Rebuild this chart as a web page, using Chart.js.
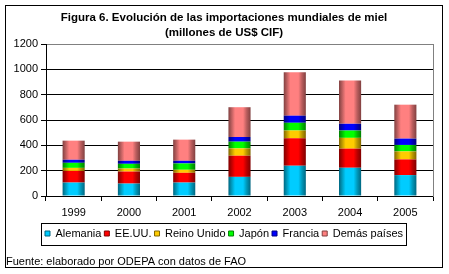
<!DOCTYPE html>
<html>
<head>
<meta charset="utf-8">
<script src="https://cdn.jsdelivr.net/npm/chart.js@4/dist/chart.umd.min.js"></script>
<style>
  html, body { margin:0; padding:0; background:#fff; }
  #frame { position:absolute; left:5px; top:5px; width:436px; height:261px; border:1px solid #000; }
  #frame canvas { display:block; }
</style>
</head>
<body>
<div id="frame"><canvas id="chart" width="436" height="261"></canvas></div>
<script>
// Importaciones mundiales de miel, millones de US$ CIF
const years      = ['1999','2000','2001','2002','2003','2004','2005'];
const alemania   = [106,  98, 106, 151, 239, 223, 165];
const eeuu       = [ 92,  95,  77, 167, 217, 151, 124];
const reinoUnido = [ 24,  24,  24,  58,  61,  85,  63];
const japon      = [ 40,  37,  50,  53,  61,  58,  51];
const francia    = [ 24,  24,  21,  37,  56,  53,  50];
const demas      = [151, 151, 167, 235, 342, 342, 268];
const yTicks     = [0, 200, 400, 600, 800, 1000, 1200];

const FONT = 'Liberation Sans, Arial, sans-serif';
const BAR_PCT = 0.4;

// colores cilindro: [claro, medio, oscuro]
const SHADES = {
  alemania: ['#00ccff', '#0099bb', '#006680'],
  eeuu:     ['#ff0000', '#bb0000', '#800000'],
  reino:    ['#ffcc00', '#bb9900', '#806600'],
  japon:    ['#00ff00', '#00bb00', '#008000'],
  francia:  ['#0000ff', '#0000bb', '#000080'],
  demas:    ['#ff8080', '#bb5e5e', '#804040']
};

function cylinder(shade){
  return (ctx)=>{
    const chart = ctx.chart;
    const xs = chart.scales && chart.scales.x;
    if(!chart.chartArea || !xs || ctx.dataIndex == null) return shade[0];
    const cx = xs.getPixelForValue(ctx.dataIndex);
    const w = xs.width / years.length * BAR_PCT;
    const g = chart.ctx.createLinearGradient(cx - w/2, 0, cx + w/2, 0);
    g.addColorStop(0, shade[2]);
    g.addColorStop(0.14, shade[1]);
    g.addColorStop(0.3, shade[0]);
    g.addColorStop(0.66, shade[0]);
    g.addColorStop(0.82, shade[1]);
    g.addColorStop(1, shade[2]);
    return g;
  };
}

function ds(label, data, shade){
  return {label, data, backgroundColor:cylinder(shade), legendFill:shade[0], legendEdge:shade[2],
    borderWidth:0, barPercentage:BAR_PCT, categoryPercentage:1};
}

// recuadro de la leyenda
const legendBox = {
  id:'legendBox',
  afterDraw(chart){
    const boxes = chart.legend && chart.legend.legendHitBoxes;
    if(!boxes || !boxes.length) return;
    const left = Math.min(...boxes.map(b=>b.left)) - 4;
    const right = Math.max(...boxes.map(b=>b.left + b.width)) + 3;
    const cy = boxes[0].top + boxes[0].height/2;
    const c = chart.ctx;
    c.save();
    c.strokeStyle = '#000';
    c.lineWidth = 1;
    c.strokeRect(Math.round(left)+0.5, Math.round(cy - 11)+0.5, Math.round(right-left), 22);
    c.restore();
  }
};

new Chart(document.getElementById('chart'), {
  type:'bar',
  data:{
    labels:years,
    datasets:[
      ds('Alemania', alemania, SHADES.alemania),
      ds('EE.UU.', eeuu, SHADES.eeuu),
      ds('Reino Unido', reinoUnido, SHADES.reino),
      ds('Japón', japon, SHADES.japon),
      ds('Francia', francia, SHADES.francia),
      ds('Demás países', demas, SHADES.demas)
    ]
  },
  options:{
    responsive:false,
    animation:false,
    layout:{padding:0},
    plugins:{
      title:{
        display:true,
        text:['Figura 6. Evolución de las importaciones mundiales de miel','(millones de US$ CIF)'],
        color:'#000',
        font:{family:FONT, size:11.5, weight:'bold', lineHeight:15/11.5},
        padding:{top:4, bottom:4}
      },
      subtitle:{
        display:true,
        position:'bottom',
        align:'start',
        text:'Fuente: elaborado por ODEPA con datos de FAO',
        color:'#000',
        font:{family:FONT, size:11, lineHeight:1},
        padding:{top:7, bottom:0}
      },
      legend:{
        position:'bottom',
        labels:{
          color:'#000',
          font:{family:FONT, size:11},
          boxWidth:5,
          boxHeight:5,
          padding:3,
          generateLabels(chart){
            return chart.data.datasets.map((d,i)=>({
              text:d.label, fillStyle:d.legendFill, strokeStyle:d.legendEdge,
              lineWidth:1, hidden:false, datasetIndex:i
            }));
          }
        }
      },
      tooltip:{enabled:false}
    },
    scales:{
      x:{
        stacked:true,
        grid:{offset:true, drawOnChartArea:false, color:'#000', tickLength:5},
        border:{color:'#000'},
        ticks:{color:'#000', font:{family:FONT, size:11}, padding:5, maxRotation:0},
        afterFit:(s)=>{ s.height = 29; }
      },
      y:{
        stacked:true,
        min:0, max:1200,
        afterBuildTicks:(s)=>{ s.ticks = yTicks.map(v=>({value:v})); },
        grid:{
          color:(c)=> c.tick && c.tick.value === 1200 ? '#808080' : '#000',
          tickColor:'#000',
          tickLength:5
        },
        border:{color:'#000'},
        ticks:{color:'#000', font:{family:FONT, size:11}, padding:3, callback:(v)=>String(v)},
        afterFit:(s)=>{ s.width = 40; }
      },
      y2:{
        position:'right',
        display:true,
        grid:{display:false, drawTicks:false},
        ticks:{display:false},
        border:{display:true, color:'#808080'},
        afterFit:(s)=>{ s.width = 9; }
      }
    }
  },
  plugins:[legendBox]
});
</script>
</body>
</html>
